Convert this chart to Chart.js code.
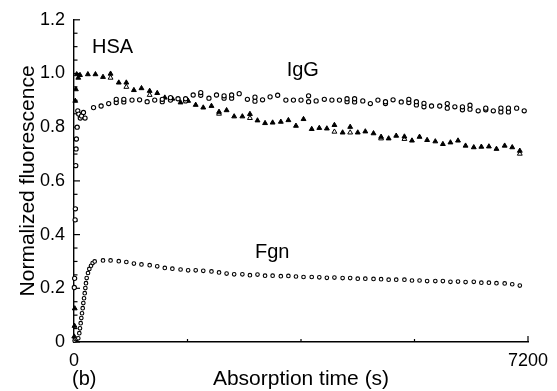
<!DOCTYPE html>
<html><head><meta charset="utf-8">
<script src="https://cdn.jsdelivr.net/npm/chart.js@4.4.0/dist/chart.umd.min.js"></script>
<style>html,body{margin:0;padding:0;background:#fff;}canvas{display:block}</style>
</head><body>
<canvas id="c" width="557" height="391"></canvas>
<script>
// ---- data (time in s, normalized fluorescence) ----
const hsaTime = [220,340,460,580,710,830,950,1070,1200,1320,1440,1560,1690,1810,1930,2050,2180,2300,2420,2540,2670,2790,2910,3030,3150,3280,3400,3520,3640,3770,3890,4010,4130,4260,4380,4500,4620,4750,4870,4990,5110,5240,5360,5480,5600,5730,5850,5970,6090,6210,6340,6460,6580,6700,6830,6950,7070];
const hsaValue = [0.997,0.997,0.987,0.999,0.966,0.966,0.938,0.945,0.935,0.927,0.910,0.906,0.892,0.898,0.883,0.873,0.879,0.857,0.863,0.840,0.840,0.849,0.825,0.815,0.817,0.820,0.826,0.805,0.830,0.793,0.797,0.795,0.808,0.780,0.801,0.780,0.784,0.777,0.764,0.758,0.768,0.765,0.750,0.764,0.752,0.747,0.737,0.743,0.750,0.731,0.725,0.727,0.728,0.719,0.731,0.725,0.712];
const hsaRepTime = [580,830,1200,2300,2790,4130,4380,4870,5240,7070];
const hsaRepValue = [0.984,0.950,0.920,0.850,0.834,0.783,0.780,0.758,0.756,0.701];
const hsaEarlyTime = [4,8,12,20,30,43,68,95];
const hsaEarlyValue = [0.02,0.06,0.125,0.898,0.941,0.997,0.984,0.994];

const iggTime = [310,430,550,670,790,920,1040,1160,1280,1400,1530,1650,1770,1890,2010,2140,2260,2380,2500,2620,2750,2870,2990,3110,3230,3360,3480,3600,3720,3840,3970,4090,4210,4330,4450,4580,4700,4820,4940,5060,5190,5310,5430,5550,5670,5800,5920,6040,6160,6280,6410,6530,6650,6770,6890,7020,7140];
const iggValue = [0.873,0.879,0.888,0.904,0.904,0.901,0.902,0.895,0.901,0.904,0.910,0.906,0.906,0.920,0.929,0.908,0.920,0.917,0.920,0.925,0.904,0.912,0.902,0.913,0.919,0.901,0.901,0.901,0.917,0.898,0.904,0.901,0.901,0.906,0.906,0.898,0.888,0.901,0.895,0.902,0.894,0.904,0.895,0.889,0.879,0.879,0.888,0.876,0.876,0.882,0.861,0.871,0.861,0.871,0.871,0.871,0.861];
const iggRepTime = [670,790,1400,1530,1770,2010,2380,2500,2870,3720,4330,4450,4940,5310,5430,5550,5920,6160,6280,6530,6770,6890];
const iggRepValue = [0.892,0.894,0.895,0.901,0.898,0.919,0.908,0.908,0.897,0.895,0.895,0.894,0.888,0.892,0.883,0.876,0.871,0.865,0.867,0.865,0.857,0.857];
const iggEarlyTime = [5,10,18,22,28,33,38,50,60,75,100,120,150,175];
const iggEarlyValue = [0.203,0.237,0.455,0.496,0.657,0.719,0.756,0.80,0.861,0.849,0.834,0.842,0.855,0.834];

const fgnTime = [460,580,710,830,950,1070,1200,1320,1440,1560,1690,1810,1930,2050,2180,2300,2420,2540,2670,2790,2910,3030,3150,3280,3400,3520,3640,3770,3890,4010,4130,4260,4380,4500,4620,4750,4870,4990,5110,5240,5360,5480,5600,5730,5850,5970,6090,6210,6340,6460,6580,6700,6830,6950,7070];
const fgnValue = [0.304,0.304,0.301,0.298,0.292,0.289,0.286,0.282,0.276,0.273,0.270,0.267,0.267,0.265,0.263,0.259,0.255,0.252,0.252,0.249,0.251,0.247,0.247,0.245,0.246,0.244,0.242,0.242,0.241,0.239,0.240,0.238,0.238,0.236,0.236,0.235,0.234,0.232,0.232,0.232,0.229,0.229,0.227,0.227,0.227,0.224,0.225,0.223,0.224,0.221,0.221,0.219,0.218,0.215,0.210];
const fgnEarlyTime = [10,25,45,68,84,95,106,116,127,138,148,159,170,180,190,201,222,243,270,296,328];
const fgnEarlyValue = [0.005,0.010,0.012,0.014,0.033,0.051,0.070,0.089,0.107,0.126,0.145,0.163,0.182,0.201,0.219,0.238,0.257,0.272,0.284,0.294,0.300];

const yTickValues = [0,0.2,0.4,0.6,0.8,1.0,1.2];
const xTickValues = [0,7200];
const xMinorTicks = [1800,3600,5400,7200];
const curveLabels = ['HSA','IgG','Fgn'];
const labelTime = [285,3373,2871];
const labelValue = [1.077,0.991,0.311];

// ---- build ----
const pts = (t, v) => t.map((x, i) => ({x: x, y: v[i]}));
const FONT = '"Liberation Sans", Arial, Helvetica, sans-serif';
Chart.defaults.font.family = FONT;
Chart.defaults.color = '#000';

const tri = (bg) => ({pointStyle:'triangle', pointRadius:2.8, pointBackgroundColor:bg, pointBorderColor:'#000', pointBorderWidth:1, showLine:false, clip:false});
const circ = (r) => ({pointStyle:'circle', pointRadius:r, pointBackgroundColor:'#fff', pointBorderColor:'#000', pointBorderWidth:1.1, showLine:false, clip:false});

const extras = {
  id: 'extras',
  beforeDatasetsDraw(chart) {
    const {ctx, scales: {x, y}} = chart;
    ctx.save();
    ctx.strokeStyle = '#000';
    ctx.lineWidth = 1.2;
    const x0 = x.getPixelForValue(0);
    for (let i = 0; i <= 24; i++) {
      const py = y.getPixelForValue(i * 0.05);
      const len = (i % 4 === 0) ? 6 : 3.5;
      ctx.beginPath(); ctx.moveTo(x0, py); ctx.lineTo(x0 + len, py); ctx.stroke();
    }
    const y0 = y.getPixelForValue(0);
    xMinorTicks.forEach((v) => {
      const px = x.getPixelForValue(v);
      const len = (v === 7200) ? 6 : 3;
      ctx.beginPath(); ctx.moveTo(px, y0); ctx.lineTo(px, y0 - len); ctx.stroke();
    });
    ctx.restore();
  },
  afterDraw(chart) {
    const {ctx, scales: {x, y}} = chart;
    ctx.save();
    ctx.fillStyle = '#000';
    ctx.font = '20px ' + FONT;
    ctx.textAlign = 'left';
    ctx.textBaseline = 'alphabetic';
    curveLabels.forEach((t, i) => ctx.fillText(t, x.getPixelForValue(labelTime[i]), y.getPixelForValue(labelValue[i])));
    ctx.fillText('(b)', 72, 385);
    ctx.restore();
  }
};

new Chart(document.getElementById('c'), {
  type: 'scatter',
  data: {
    datasets: [
      Object.assign({label:'Fgn', data: pts(fgnEarlyTime.concat(fgnTime), fgnEarlyValue.concat(fgnValue))}, circ(1.8)),
      Object.assign({label:'IgG', data: pts(iggEarlyTime.concat(iggTime), iggEarlyValue.concat(iggValue))}, circ(2.1)),
      Object.assign({label:'IgG rep', data: pts(iggRepTime, iggRepValue)}, circ(2.1)),
      Object.assign({label:'HSA', data: pts(hsaEarlyTime.concat(hsaTime), hsaEarlyValue.concat(hsaValue))}, tri('#000')),
      Object.assign({label:'HSA rep', data: pts(hsaRepTime, hsaRepValue)}, tri('#fff'))
    ]
  },
  plugins: [extras],
  options: {
    responsive: false,
    animation: false,
    devicePixelRatio: 1,
    layout: {padding: {top: 18.6, right: 29, bottom: 0, left: 0}},
    plugins: {legend: {display: false}, tooltip: {enabled: false}},
    scales: {
      x: {
        type: 'linear', min: 0, max: 7200,
        grid: {display: false, drawTicks: false},
        border: {display: true, color: '#000', width: 1.6},
        afterBuildTicks: (s) => { s.ticks = xTickValues.map(v => ({value: v})); },
        afterFit: (s) => { s.height = 49; },
        ticks: {font: {size: 18}, padding: 8, maxRotation: 0, autoSkip: false, color: '#000', callback: (v) => String(v)},
        title: {display: true, text: 'Absorption time (s)', font: {size: 21, lineHeight: 1}, padding: {top: 0, bottom: 1}, color: '#000'}
      },
      y: {
        type: 'linear', min: 0, max: 1.2,
        grid: {display: false, drawTicks: false},
        border: {display: true, color: '#000', width: 1.4},
        afterBuildTicks: (s) => { s.ticks = yTickValues.map(v => ({value: v})); },
        afterFit: (s) => { s.width = 74; },
        ticks: {font: {size: 18}, padding: 9, color: '#000', callback: (v) => v === 0 ? '0' : Number(v).toFixed(1)},
        title: {display: true, text: 'Normalized fluorescence', font: {size: 21, lineHeight: 1}, padding: {top: 18, bottom: 0}, color: '#000'}
      }
    }
  }
});
</script>
</body></html>
